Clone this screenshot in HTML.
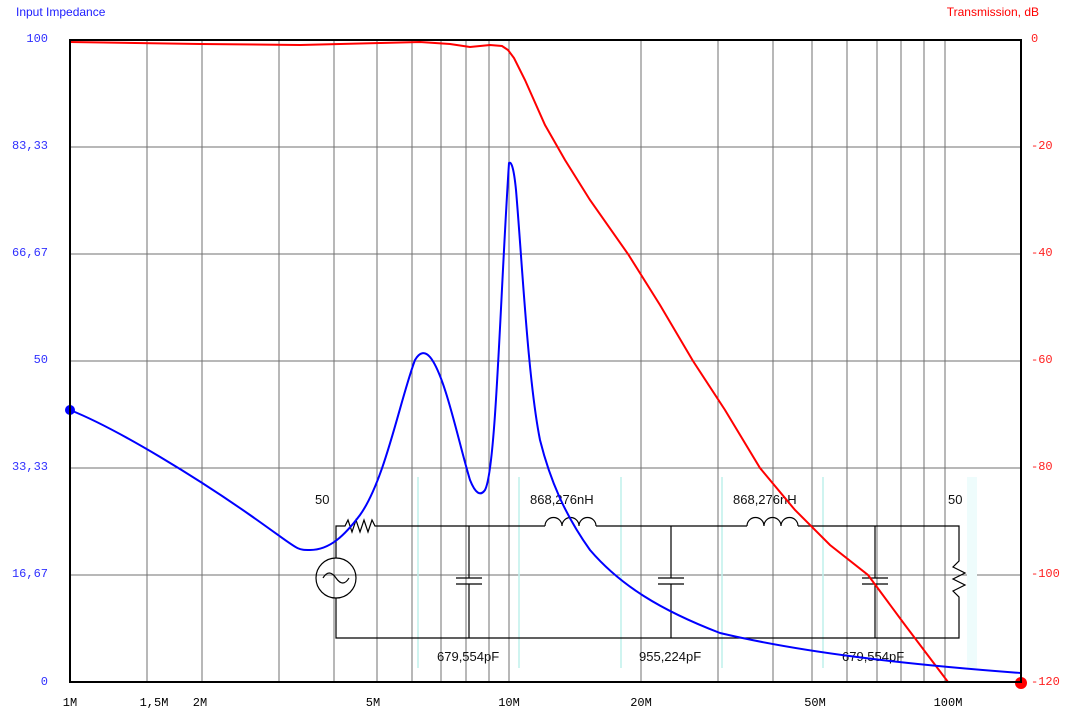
<!DOCTYPE html>
<html><head><style>
body{margin:0;background:#fff;width:1077px;height:716px;overflow:hidden}
svg text{font-family:"Liberation Sans",sans-serif}
svg .m text{font-family:"Liberation Mono",monospace}
</style></head><body>
<svg width="1077" height="716" xmlns="http://www.w3.org/2000/svg">
<rect width="1077" height="716" fill="#fff"/>
<text x="16" y="16" font-size="12" fill="#2020ff">Input Impedance</text>
<text x="1039" y="16" font-size="12" fill="#ff0000" text-anchor="end">Transmission, dB</text>
<g stroke="#707070" stroke-width="1">
<path d="M147 40V682M202 40V682M279 40V682M334 40V682M377 40V682M412 40V682M441 40V682M466 40V682M489 40V682M509 40V682M641 40V682M718 40V682M773 40V682M812 40V682M847 40V682M877 40V682M901 40V682M924 40V682M945 40V682"/>
<path d="M70 147H1021M70 254H1021M70 361H1021M70 468H1021M70 575H1021"/>
</g>
<g stroke="#bff0ec" stroke-width="1.5">
<path d="M418 477V668M519 477V668M621 477V668M722 477V668M823 477V668"/>
</g>
<rect x="967" y="477" width="10" height="191" fill="#eefcfc"/>
<g stroke="#000" stroke-width="1.2" fill="none">
<path d="M336 558V526H345l3-6 4 12 4-12 4 12 4-12 4 12 4-12 3 6H545M596 526H747M798 526H959V561l-6 6 12 6-12 6 12 6-12 6 6 6V638H336V598"/>
<circle cx="336" cy="578" r="20"/>
<path d="M323 578q6-10 13 0t13 0"/>
<path d="M545 526a6 6 0 0 1 17 0a6 6 0 0 1 17 0a6 6 0 0 1 17 0M747 526a6 6 0 0 1 17 0a6 6 0 0 1 17 0a6 6 0 0 1 17 0"/>
<path d="M469 526V578M456 578H482M456 584H482M469 584V638M671 526V578M658 578H684M658 584H684M671 584V638M875 526V578M862 578H888M862 584H888M875 584V638"/>
</g>
<g font-size="13" fill="#111">
<text x="315" y="504">50</text>
<text x="530" y="504">868,276nH</text>
<text x="733" y="504">868,276nH</text>
<text x="948" y="504">50</text>
<text x="437" y="661">679,554pF</text>
<text x="639" y="661">955,224pF</text>
<text x="842" y="661">679,554pF</text>
</g>
<polyline fill="none" stroke="#ff0000" stroke-width="2" points="70,42 200,44 300,45 380,43 420,42 450,44 470,47 490,45 502,46 508,50 514,58 525,80 545,125 565,160 590,200 628,254 660,305 693,361 725,410 760,468 795,510 830,545 868,575 905,625 948,682 1021,682"/>
<path fill="none" stroke="#0000ff" stroke-width="2" d="M70 410C120 430 200 480 250 515S295 550 310 550C330 550 345 535 360 515C385 480 400 400 415 360Q422 348 430 357C445 375 458 440 470 480Q478 500 485 490C496 470 500 300 509 163Q513 160 516 190C522 260 528 380 540 440C550 480 565 515 590 550C620 585 660 610 720 633C800 652 900 664 1021 673"/>
<circle cx="70" cy="410" r="5" fill="#0000ff"/>
<circle cx="1021" cy="683" r="6" fill="#ff0000"/>
<rect x="70" y="40" width="951" height="642" fill="none" stroke="#000" stroke-width="2"/>
<g class="m" font-size="12" fill="#3030ff" text-anchor="end">
<text x="48" y="42">100</text><text x="48" y="149">83,33</text><text x="48" y="256">66,67</text><text x="48" y="363">50</text><text x="48" y="470">33,33</text><text x="48" y="577">16,67</text><text x="48" y="685">0</text>
</g>
<g class="m" font-size="12" fill="#ff2020">
<text x="1031" y="42">0</text><text x="1031" y="149">-20</text><text x="1031" y="256">-40</text><text x="1031" y="363">-60</text><text x="1031" y="470">-80</text><text x="1031" y="577">-100</text><text x="1031" y="685">-120</text>
</g>
<g class="m" font-size="12" fill="#000" text-anchor="middle">
<text x="70" y="706">1M</text><text x="154" y="706">1,5M</text><text x="200" y="706">2M</text><text x="373" y="706">5M</text><text x="509" y="706">10M</text><text x="641" y="706">20M</text><text x="815" y="706">50M</text><text x="948" y="706">100M</text>
</g>
</svg>
</body></html>
